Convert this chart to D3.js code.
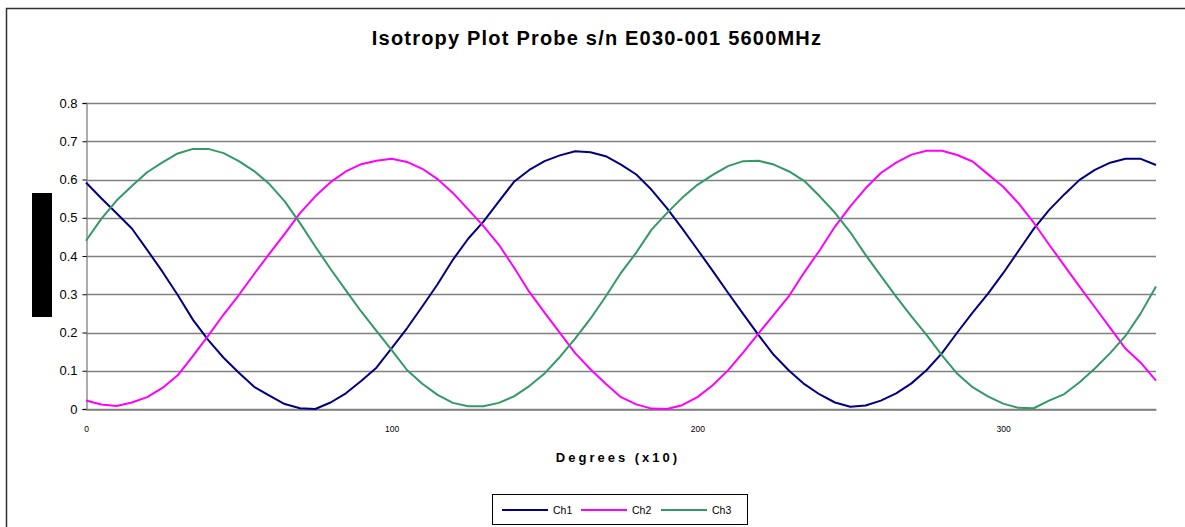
<!DOCTYPE html>
<html>
<head>
<meta charset="utf-8">
<script src="https://cdn.jsdelivr.net/npm/d3@7"></script>
<style>
  html, body { margin: 0; padding: 0; background: #fff; }
  svg { display: block; font-family: "Liberation Sans", Arial, sans-serif; }
</style>
</head>
<body>
<svg id="chart" width="1185" height="527"></svg>
<script>
// ---- Data ----
const degrees = d3.range(0, 351, 5); // category positions 0,5,...,350
const ch1 = [0.592,0.551,0.512,0.472,0.416,0.359,0.298,0.233,0.180,0.134,
             0.095,0.058,0.035,0.013,0.002,0.000,0.017,0.041,0.073,0.108,
             0.159,0.211,0.268,0.326,0.390,0.445,0.490,0.542,0.594,0.625,
             0.648,0.663,0.674,0.671,0.661,0.639,0.613,0.573,0.525,0.472,
             0.417,0.361,0.304,0.248,0.193,0.141,0.100,0.065,0.038,0.017,
             0.006,0.009,0.022,0.041,0.067,0.102,0.146,0.200,0.252,0.301,
             0.355,0.413,0.471,0.520,0.561,0.599,0.625,0.644,0.654,0.654,
             0.638];
const ch2 = [0.022,0.012,0.008,0.017,0.031,0.055,0.088,0.139,0.192,0.247,
             0.298,0.353,0.406,0.458,0.512,0.556,0.593,0.621,0.640,0.649,
             0.654,0.646,0.628,0.601,0.565,0.522,0.478,0.430,0.370,0.306,
             0.252,0.199,0.146,0.104,0.066,0.031,0.012,0.001,0.000,0.010,
             0.031,0.062,0.101,0.148,0.198,0.247,0.296,0.358,0.415,0.477,
             0.530,0.577,0.617,0.644,0.665,0.675,0.675,0.664,0.647,0.614,
             0.581,0.538,0.487,0.430,0.375,0.320,0.266,0.212,0.158,0.121,
             0.074];
const ch3 = [0.440,0.497,0.545,0.583,0.619,0.645,0.668,0.680,0.680,0.669,
             0.648,0.622,0.588,0.543,0.486,0.425,0.366,0.310,0.255,0.204,
             0.154,0.102,0.066,0.037,0.016,0.007,0.007,0.016,0.033,0.060,
             0.093,0.136,0.184,0.236,0.294,0.356,0.409,0.469,0.512,0.552,
             0.586,0.612,0.635,0.648,0.649,0.639,0.621,0.596,0.556,0.513,
             0.462,0.403,0.348,0.294,0.242,0.193,0.140,0.092,0.057,0.033,
             0.014,0.003,0.002,0.022,0.039,0.070,0.106,0.146,0.191,0.250,
             0.320];
const seriesNames = ["Ch1", "Ch2", "Ch3"];
const seriesColors = ["#000080", "#FF00FF", "#339966"];
const yTicks = [0, 0.1, 0.2, 0.3, 0.4, 0.5, 0.6, 0.7, 0.8];
const xTicks = [0, 100, 200, 300];
const title = "Isotropy Plot Probe s/n E030-001 5600MHz";
const xTitle = "Degrees (x10)";

// ---- Layout ----
const svg = d3.select("#chart");
const plot = { left: 86, right: 1156, top: 103, bottom: 409 };

const x = d3.scaleLinear().domain([0, 350]).range([plot.left, plot.right]);
const y = d3.scaleLinear().domain([0, 0.8]).range([plot.bottom, plot.top]);

// chart area border
svg.append("rect")
  .attr("x", 6.5).attr("y", 8.5)
  .attr("width", 1185).attr("height", 600)
  .attr("fill", "#fff").attr("stroke", "#303030").attr("stroke-width", 1.5);

// title
svg.append("text")
  .attr("x", 597).attr("y", 45)
  .attr("text-anchor", "middle")
  .attr("font-size", 20).attr("font-weight", "bold")
  .attr("letter-spacing", "1.2px")
  .attr("fill", "#000")
  .text(title);

// gridlines
svg.append("g")
  .selectAll("line")
  .data(yTicks)
  .join("line")
  .attr("x1", plot.left).attr("x2", plot.right)
  .attr("y1", d => Math.round(y(d)) + 0.5).attr("y2", d => Math.round(y(d)) + 0.5)
  .attr("stroke", "#808080").attr("stroke-width", 1.3);

// y axis
const yAxis = d3.axisLeft(y).tickValues(yTicks).tickSize(4).tickPadding(5)
  .tickFormat(d => d === 0 ? "0" : d3.format(".1f")(d));
const gy = svg.append("g").attr("transform", `translate(${plot.left + 0.5},0)`).call(yAxis);
gy.select(".domain").attr("stroke", "#808080").attr("stroke-width", 1.3);
gy.selectAll(".tick line").attr("stroke", "#000");
gy.selectAll(".tick text").attr("font-size", 13).attr("fill", "#000")
  .attr("font-family", "'Liberation Sans', Arial, sans-serif");

// x axis
const xAxis = d3.axisBottom(x).tickValues(xTicks).tickSize(0).tickPadding(16)
  .tickFormat(d3.format("d"));
const gx = svg.append("g").attr("transform", `translate(0,${plot.bottom + 0.5})`).call(xAxis);
gx.select(".domain").attr("stroke", "#808080").attr("stroke-width", 1.3);
gx.selectAll(".tick text").attr("font-size", 8.5).attr("fill", "#000")
  .attr("font-family", "'Liberation Sans', Arial, sans-serif");

// x axis title
svg.append("text")
  .attr("x", 618).attr("y", 462)
  .attr("text-anchor", "middle")
  .attr("font-size", 13).attr("font-weight", "bold")
  .attr("letter-spacing", "3px")
  .attr("fill", "#000")
  .text(xTitle);

// redacted y-axis title block
svg.append("rect")
  .attr("x", 32).attr("y", 193).attr("width", 20).attr("height", 124)
  .attr("fill", "#000");

// series lines
const series = [ch1, ch2, ch3];
const line = d3.line().x((d, i) => x(degrees[i])).y(d => y(d));
svg.append("g")
  .selectAll("path")
  .data(series)
  .join("path")
  .attr("d", d => line(d))
  .attr("fill", "none")
  .attr("stroke", (d, i) => seriesColors[i])
  .attr("stroke-width", 2)
  .attr("stroke-linejoin", "round");

// legend
const legend = svg.append("g");
legend.append("rect")
  .attr("x", 492.5).attr("y", 494.5).attr("width", 255).attr("height", 30)
  .attr("fill", "#fff").attr("stroke", "#000").attr("stroke-width", 1);
const legendX = [502, 581, 661];
const items = legend.selectAll("g.item")
  .data(seriesNames)
  .join("g")
  .attr("class", "item")
  .attr("transform", (d, i) => `translate(${legendX[i]},510)`);
items.append("line")
  .attr("x1", 0).attr("x2", 46).attr("y1", 0).attr("y2", 0)
  .attr("stroke", (d, i) => seriesColors[i]).attr("stroke-width", 2);
items.append("text")
  .attr("x", 51).attr("y", 4)
  .attr("font-size", 10.5).attr("fill", "#000")
  .text(d => d);
</script>
</body>
</html>
